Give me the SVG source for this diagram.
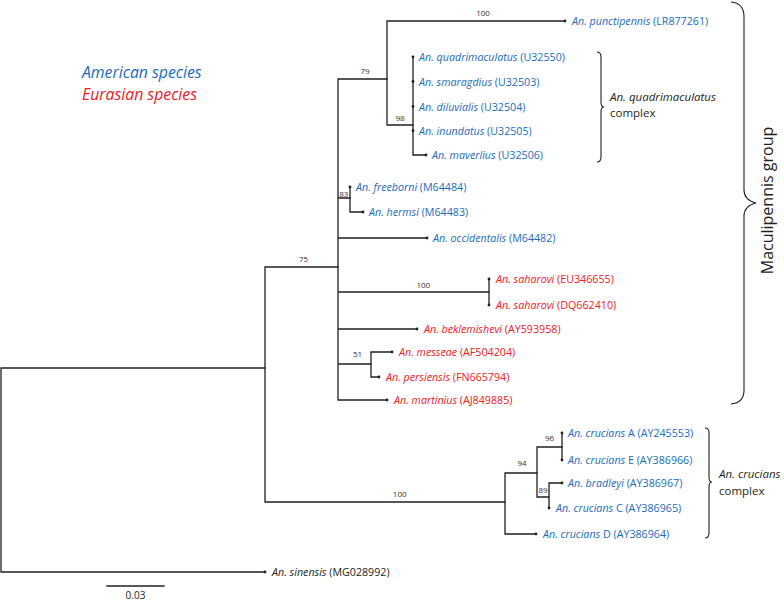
<svg xmlns="http://www.w3.org/2000/svg" width="784" height="602" viewBox="0 0 784 602">
<style>
text{font-family:"Open Sans","Noto Sans","Liberation Sans",sans-serif;}
.br{fill:none;stroke:#231f20;stroke-width:1.3;stroke-linecap:square;}
.brace{fill:none;stroke:#231f20;stroke-width:1.1;}
.dot{fill:#231f20;}
.lab{font-size:10.7px;}
.am{fill:#1c6cbb;}
.eu{fill:#ec2027;}
.bk{fill:#231f20;}
.sup{font-size:8px;fill:#333;text-anchor:middle;}
.it{font-style:italic;}
</style>
<rect width="784" height="602" fill="#fff"/>
<g id="connectors">
<path class="br" d="M1,368V572M1,368H265M1,572H265"/>
<path class="br" d="M265,267V502M265,267H338M265,502H505"/>
<path class="br" d="M338,79V400M338,79H387M338,198H350M338,238H427M338,292H489M338,329H417M338,364H371M338,400H387"/>
<path class="br" d="M387,21V125M387,21H565M387,125H413"/>
<path class="br" d="M413,57V155M413,155H426"/>
<path class="br" d="M350,187V212M350,212H363"/>
<path class="br" d="M489,279V305"/>
<path class="br" d="M371,352V377M371,352H392M371,377H379"/>
<path class="br" d="M505,473V534M505,473H537M505,534H536"/>
<path class="br" d="M537,447V497M537,447H562M537,497H549"/>
<path class="br" d="M562,433V460"/>
<path class="br" d="M549,483V508M549,483H562"/>
</g>
<g id="supports">
<text class="sup" x="483" y="16">100</text>
<text class="sup" x="365" y="73.5">79</text>
<text class="sup" x="400" y="120.5">98</text>
<text class="sup" x="343.8" y="196.5">83</text>
<text class="sup" x="303.5" y="261.5">75</text>
<text class="sup" x="423.3" y="288">100</text>
<text class="sup" x="357.5" y="356.5">51</text>
<text class="sup" x="399.7" y="496.5">100</text>
<text class="sup" x="522" y="466">94</text>
<text class="sup" x="549.5" y="441">96</text>
<text class="sup" x="543" y="493.3">89</text>
</g>
<g id="legend">
<text x="82" y="78" class="it am" font-size="15.8">American species</text>
<text x="82" y="100" class="it eu" font-size="15.8">Eurasian species</text>
</g>
<g id="leaf-punctipennis"><circle class="dot" cx="565" cy="21" r="1.4"/><text class="lab am" x="572" y="25"><tspan class="it">An. punctipennis</tspan> (LR877261)</text></g>
<g id="leaf-quadrimaculatus"><circle class="dot" cx="413" cy="57" r="1.4"/><text class="lab am" x="419" y="61"><tspan class="it">An. quadrimaculatus</tspan> (U32550)</text></g>
<g id="leaf-smaragdius"><circle class="dot" cx="413" cy="81.5" r="1.4"/><text class="lab am" x="419" y="85.5"><tspan class="it">An. smaragdius</tspan> (U32503)</text></g>
<g id="leaf-diluvialis"><circle class="dot" cx="413" cy="106.5" r="1.4"/><text class="lab am" x="419" y="110.5"><tspan class="it">An. diluvialis</tspan> (U32504)</text></g>
<g id="leaf-inundatus"><circle class="dot" cx="413" cy="130.7" r="1.4"/><text class="lab am" x="419" y="134.7"><tspan class="it">An. inundatus</tspan> (U32505)</text></g>
<g id="leaf-maverlius"><circle class="dot" cx="426" cy="155" r="1.4"/><text class="lab am" x="432" y="159"><tspan class="it">An. maverlius</tspan> (U32506)</text></g>
<g id="leaf-freeborni"><circle class="dot" cx="350" cy="187" r="1.4"/><text class="lab am" x="356" y="191"><tspan class="it">An. freeborni</tspan> (M64484)</text></g>
<g id="leaf-hermsi"><circle class="dot" cx="363" cy="212" r="1.4"/><text class="lab am" x="369" y="216"><tspan class="it">An. hermsi</tspan> (M64483)</text></g>
<g id="leaf-occidentalis"><circle class="dot" cx="427" cy="238" r="1.4"/><text class="lab am" x="433" y="242"><tspan class="it">An. occidentalis</tspan> (M64482)</text></g>
<g id="leaf-saharovi1"><circle class="dot" cx="489" cy="279" r="1.4"/><text class="lab eu" x="496" y="283"><tspan class="it">An. saharovi</tspan> (EU346655)</text></g>
<g id="leaf-saharovi2"><circle class="dot" cx="489" cy="305" r="1.4"/><text class="lab eu" x="496" y="309"><tspan class="it">An. saharovi</tspan> (DQ662410)</text></g>
<g id="leaf-beklemishevi"><circle class="dot" cx="417" cy="329" r="1.4"/><text class="lab eu" x="424" y="333"><tspan class="it">An. beklemishevi</tspan> (AY593958)</text></g>
<g id="leaf-messeae"><circle class="dot" cx="392" cy="352" r="1.4"/><text class="lab eu" x="399" y="356"><tspan class="it">An. messeae</tspan> (AF504204)</text></g>
<g id="leaf-persiensis"><circle class="dot" cx="379" cy="377" r="1.4"/><text class="lab eu" x="386" y="381"><tspan class="it">An. persiensis</tspan> (FN665794)</text></g>
<g id="leaf-martinius"><circle class="dot" cx="387" cy="400" r="1.4"/><text class="lab eu" x="394" y="404"><tspan class="it">An. martinius</tspan> (AJ849885)</text></g>
<g id="leaf-cruciansA"><circle class="dot" cx="562" cy="433" r="1.4"/><text class="lab am" x="568" y="437"><tspan class="it">An. crucians</tspan> A (AY245553)</text></g>
<g id="leaf-cruciansE"><circle class="dot" cx="562" cy="460" r="1.4"/><text class="lab am" x="568" y="464"><tspan class="it">An. crucians</tspan> E (AY386966)</text></g>
<g id="leaf-bradleyi"><circle class="dot" cx="562" cy="483" r="1.4"/><text class="lab am" x="568" y="487"><tspan class="it">An. bradleyi</tspan> (AY386967)</text></g>
<g id="leaf-cruciansC"><circle class="dot" cx="549" cy="508" r="1.4"/><text class="lab am" x="556" y="512"><tspan class="it">An. crucians</tspan> C (AY386965)</text></g>
<g id="leaf-cruciansD"><circle class="dot" cx="536" cy="534" r="1.4"/><text class="lab am" x="543" y="538"><tspan class="it">An. crucians</tspan> D (AY386964)</text></g>
<g id="leaf-sinensis"><circle class="dot" cx="265" cy="572" r="1.4"/><text class="lab bk" x="272" y="576"><tspan class="it">An. sinensis</tspan> (MG028992)</text></g>
<g id="brace-quadrimaculatus">
<path class="brace" d="M597,52Q601,52 601,57L601,102Q601,107 604,107Q601,107 601,112L601,157Q601,162 597,162"/>
<text class="bk" x="610" y="100.5" font-size="11.5"><tspan class="it">An. quadrimaculatus</tspan></text>
<text class="bk" x="610" y="117" font-size="11.5">complex</text>
</g>
<g id="brace-crucians">
<path class="brace" d="M705,428Q709,428 709,433L709,477Q709,482 712,482Q709,482 709,487L709,533Q709,538 705,538"/>
<text class="bk" x="719" y="478" font-size="11.5"><tspan class="it">An. crucians</tspan></text>
<text class="bk" x="719" y="495" font-size="11.5">complex</text>
</g>
<g id="brace-maculipennis">
<path class="brace" d="M731,2Q744,3 744,17L744,190Q744,200 756,203Q744,206 744,216L744,390Q744,403 731,404"/>
<text class="bk" transform="translate(773,200.5) rotate(-90)" text-anchor="middle" font-size="16">Maculipennis group</text>
</g>
<g id="scale">
<path class="br" d="M107,586H164" stroke-linecap="butt"/>
<text class="bk" x="135.5" y="599" text-anchor="middle" font-size="10">0.03</text>
</g>
</svg>
